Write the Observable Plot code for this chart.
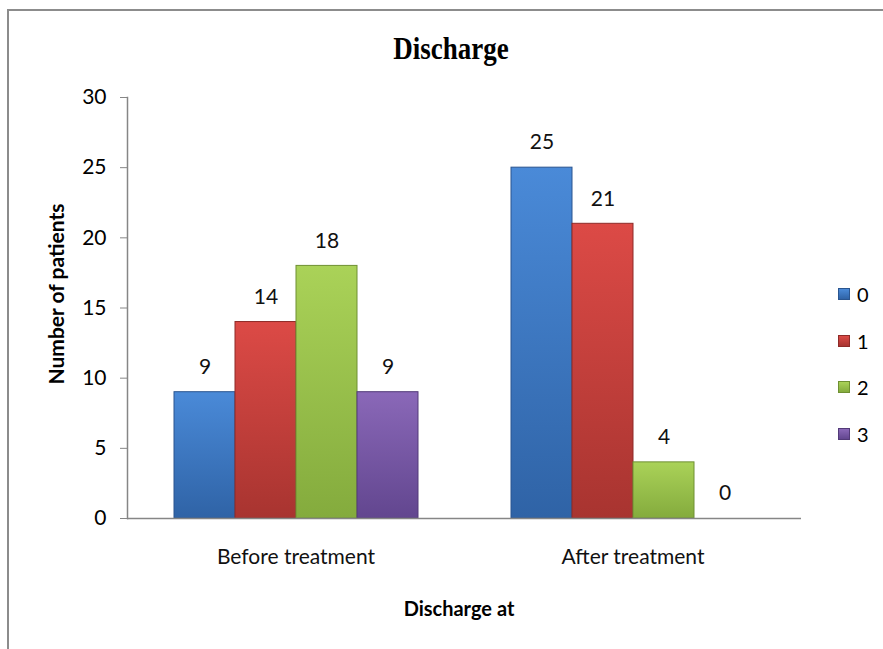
<!DOCTYPE html>
<html><head><meta charset="utf-8">
<script src="https://cdn.jsdelivr.net/npm/d3@7"></script>
<script src="https://cdn.jsdelivr.net/npm/@observablehq/plot@0.6"></script>
<style>
html,body{margin:0;padding:0;width:883px;height:649px;overflow:hidden;background:#fff;}
#border{position:absolute;left:7px;top:9px;width:900px;height:700px;border:2px solid #8c8c8c;box-sizing:border-box;}
#chart{position:absolute;left:0;top:0;}
#title{position:absolute;left:351px;width:200px;top:34px;text-align:center;font:bold 27px/30px "Liberation Serif",serif;color:#000;transform:scaleY(1.15);}
#ylab{position:absolute;left:56px;top:294px;transform:translate(-50%,-50%) rotate(-90deg);white-space:nowrap;font:bold 21px/24px Lato,sans-serif;color:#000;}
#xlab{position:absolute;left:359px;width:200px;top:596px;text-align:center;font:bold 20px/24px Lato,sans-serif;color:#000;}
#legend{position:absolute;left:838px;top:0;font:20px/24px Lato,sans-serif;color:#000;}
.row{position:absolute;left:0;display:flex;align-items:center;white-space:nowrap;}
.sw{width:12px;height:12px;margin-right:7px;box-sizing:border-box;}
</style></head>
<body>
<div id="border"></div>
<div id="chart"></div>
<div id="title">Discharge</div>
<div id="ylab">Number of patients</div>
<div id="xlab">Discharge at</div>
<div id="legend"></div>
<script>
const groups = ["Before treatment", "After treatment"];
const series = ["0", "1", "2", "3"];
const beforeValues = [9, 14, 18, 9];
const afterValues = [25, 21, 4, 0];
const yTicks = [0, 5, 10, 15, 20, 25, 30];
const topColors = ["#4a8ad8", "#dc4a46", "#aad258", "#8a68b8"];
const bottomColors = ["#2f63a6", "#a83430", "#84ab3d", "#62468f"];
const edgeColors = ["#2a558f", "#8e2b28", "#6f9032", "#523a78"];

const data = [];
groups.forEach((g, gi) => series.forEach((s, si) =>
  data.push({group: g, series: s, value: (gi === 0 ? beforeValues : afterValues)[si]})));

const plot = Plot.plot({
  width: 883, height: 649,
  marginTop: 97, marginBottom: 131, marginLeft: 126, marginRight: 82,
  style: {fontFamily: "Lato, sans-serif", fontSize: "21px", color: "#000", background: "transparent"},
  fx: {domain: groups, padding: 0, label: null},
  x: {domain: series, paddingInner: 0, paddingOuter: 0.76, axis: null},
  y: {domain: [0, 30], label: null},
  marks: [
    Plot.axisY({ticks: yTicks, tickSize: 7, tickPadding: 14, stroke: "#868686", fill: "#000", label: null}),
    Plot.axisFx({anchor: "bottom", tickSize: 0, tickPadding: 31, label: null, fill: "#111"}),
    Plot.barY(data, {
      fx: "group", x: "series", y: "value",
      fill: d => `url(#grad${series.indexOf(d.series)})`,
      stroke: d => d.value > 0 ? edgeColors[series.indexOf(d.series)] : "none",
      strokeWidth: 1
    }),
    Plot.text(data, {fx: "group", x: "series", y: "value", text: d => String(d.value), dy: -25, fontSize: 21, fill: "#111"}),
    Plot.ruleY([0], {stroke: "#868686", strokeWidth: 1.5}),
    Plot.frame({anchor: "left", facet: "super", stroke: "#868686", strokeWidth: 1.5})
  ]
});
document.getElementById("chart").appendChild(plot);

const svg = d3.select(plot.tagName.toLowerCase() === "svg" ? plot : plot.querySelector("svg"));
const defs = svg.insert("defs", ":first-child");
series.forEach((s, i) => {
  const g = defs.append("linearGradient").attr("id", `grad${i}`)
    .attr("x1", 0).attr("y1", 0).attr("x2", 0).attr("y2", 1);
  g.append("stop").attr("offset", "0%").attr("stop-color", topColors[i]);
  g.append("stop").attr("offset", "100%").attr("stop-color", bottomColors[i]);
});

const legend = document.getElementById("legend");
series.forEach((s, i) => {
  const row = document.createElement("div");
  row.className = "row";
  row.style.top = (282 + 46.5 * i) + "px";
  const sw = document.createElement("div");
  sw.className = "sw";
  sw.style.background = `linear-gradient(${topColors[i]}, ${bottomColors[i]})`;
  sw.style.border = `1px solid ${edgeColors[i]}`;
  const t = document.createElement("span");
  t.textContent = s;
  row.appendChild(sw); row.appendChild(t);
  legend.appendChild(row);
});
</script>
</body></html>
